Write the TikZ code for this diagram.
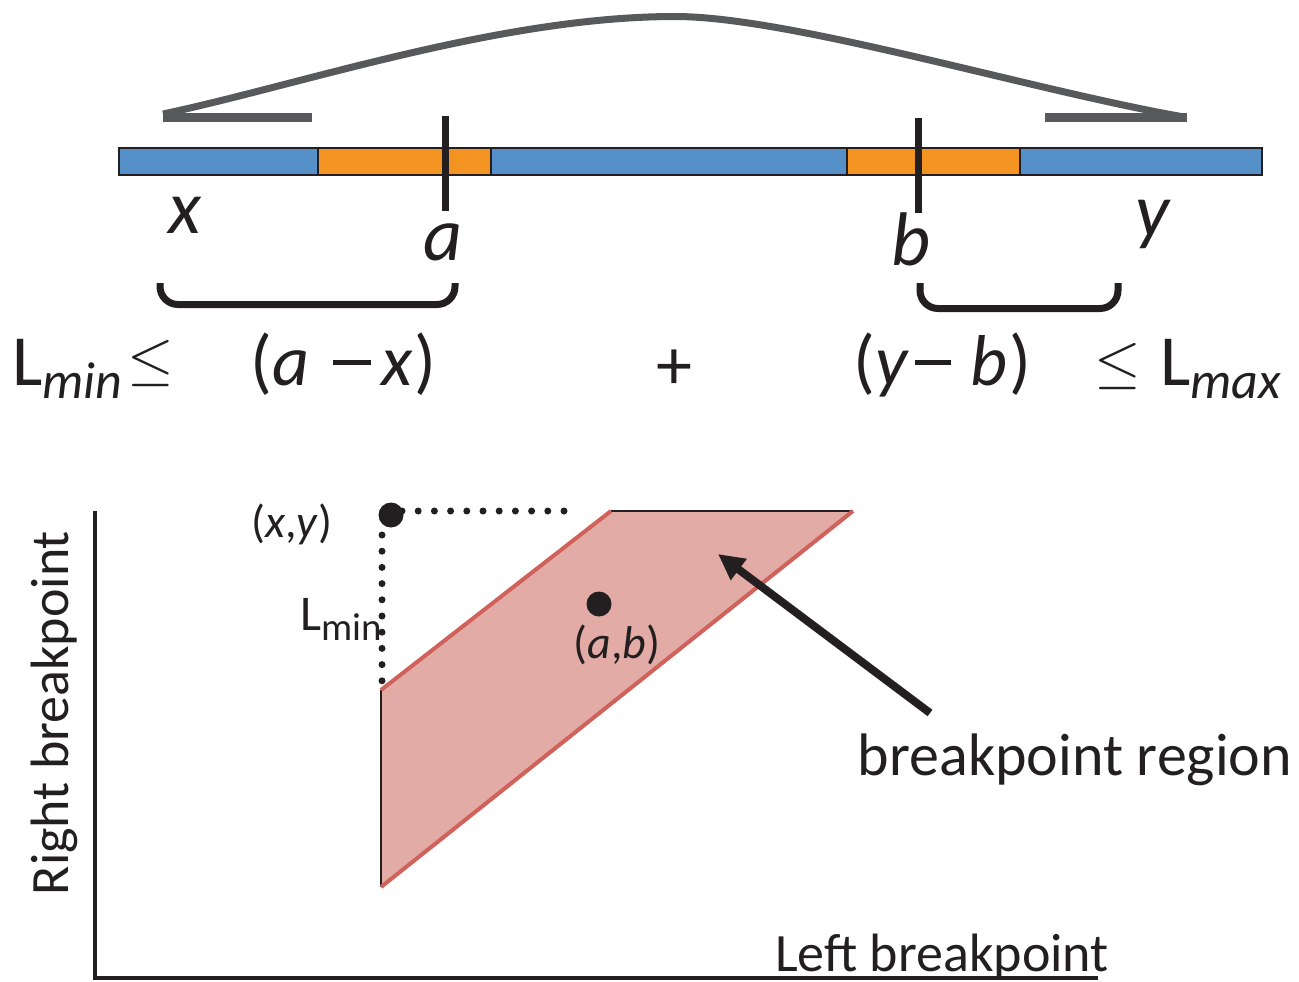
\RequirePackage{fix-cm}
\documentclass[tikz,border=0pt]{standalone}
\usepackage{fontspec}
\setmainfont{Carlito}
\usetikzlibrary{arrows.meta}
\definecolor{barblue}{HTML}{5591C8}
\definecolor{barorange}{HTML}{F39322}
\definecolor{curvegray}{HTML}{58595B}
\definecolor{inkblack}{HTML}{231F20}
\definecolor{regionfill}{HTML}{E2ABA5}
\definecolor{regionedge}{HTML}{D0625B}
\newcommand\eqfont{\fontsize{72}{80}\selectfont}
\newcommand\subfont{\fontsize{52}{56}\selectfont}
\newcommand\lblfont{\fontsize{76}{80}\selectfont}
\newcommand\ptfont{\fontsize{46}{50}\selectfont}
\newcommand\axfont{\fontsize{54}{58}\selectfont}
\newcommand\mydash[1]{\rule[20pt]{#1}{5pt}}
\tikzset{
  seg/.style={draw=inkblack,line width=2},
  tick/.style={draw=inkblack,line width=7},
  arcline/.style={draw=curvegray,line width=7},
  arcbar/.style={draw=curvegray,line width=9},
  bracket/.style={draw=inkblack,line width=7,rounded corners=18},
  txt/.style={inner sep=0pt,text=inkblack},
  dotline/.style={draw=inkblack,line width=7,line cap=round,dash pattern=on 0pt off 16.2pt},
  axis/.style={draw=inkblack,line width=4},
  edgeblack/.style={draw=inkblack,line width=1.5},
  edgered/.style={draw=regionedge,line width=4},
  bigarrow/.style={draw=inkblack,line width=8,-{Triangle[length=26pt,width=25pt]}}
}
\begin{document}
\begin{tikzpicture}[x=1pt,y=-1pt]
\useasboundingbox (0,0) rectangle (1299,982);
% top bar
\draw[seg,fill=barblue] (119,148) rectangle (318,175);
\draw[seg,fill=barorange] (318,148) rectangle (491,175);
\draw[seg,fill=barblue] (491,148) rectangle (847,175);
\draw[seg,fill=barorange] (847,148) rectangle (1020,175);
\draw[seg,fill=barblue] (1020,148) rectangle (1262,175);
% breakpoint ticks
\coordinate (ta1) at (445,116); \coordinate (ta2) at (445,211);
\coordinate (tb1) at (918,118); \coordinate (tb2) at (918,213);
\draw[tick] (ta1) -- (ta2);
\draw[tick] (tb1) -- (tb2);
% gray arc
\coordinate (al) at (163,114); \coordinate (apk) at (675,16.5); \coordinate (ar) at (1184,117);
\draw[arcline] (al) .. controls (300,85) and (500,16.5) .. (apk) .. controls (790,16.5) and (1030,90) .. (ar);
\coordinate (hl1) at (163,117.5); \coordinate (hl2) at (312,117.5);
\coordinate (hr1) at (1045,117.5); \coordinate (hr2) at (1187,117.5);
\draw[arcbar] (hl1) -- (hl2);
\draw[arcbar] (hr1) -- (hr2);
% letters
\node[txt,anchor=base] (lx) at (185,233) {\lblfont\itshape x};
\node[txt,anchor=base] (la) at (443,260) {\lblfont\itshape a};
\node[txt,anchor=base] (lb) at (911,265) {\lblfont\itshape b};
\node[txt,anchor=base] (ly) at (1152,236) {\lblfont\itshape y};
% brackets
\draw[bracket] (160,283) -- (160,304.5) -- (455,304.5) -- (455,283);
\draw[bracket] (920,283) -- (920,308.5) -- (1118,308.5) -- (1118,283);
% equation
\node[txt,anchor=base west] (lmin) at (12,385) {\eqfont L\raisebox{-13pt}{\subfont\itshape min}};
\node[txt] (le1) at (151,363.5) {\fontsize{60}{60}\selectfont$\leq$};
\node[txt,anchor=base west] (ax) at (250,385) {\eqfont (\textit{a}\hspace{24pt}\mydash{38pt}\hspace{10pt}\textit{x}\hspace{2pt})};
\node[txt] (plus) at (674,370) {\eqfont +};
\node[txt,anchor=base west] (yb) at (853,385) {\eqfont (\textit{y}\hspace{6pt}\mydash{36pt}\hspace{20pt}\textit{b}\hspace{2pt})};
\node[txt] (le2) at (1118,366) {\fontsize{60}{60}\selectfont$\leq$};
\node[txt,anchor=base west] (lmax) at (1160,385) {\eqfont L\raisebox{-13pt}{\subfont\itshape max}};
% axes
\coordinate (axtop) at (95,511); \coordinate (axorig) at (95,978); \coordinate (axright) at (1098,978);
\draw[axis] (axtop) -- (axorig) -- (axright);
\node[txt,anchor=base,rotate=90] (ylab) at (68,713) {\axfont Right breakpoint};
\node[txt,anchor=base] (xlab) at (942,971) {\axfont Left breakpoint};
% region
\coordinate (p1) at (381,690); \coordinate (p2) at (611,511);
\coordinate (p3) at (853,511); \coordinate (p4) at (381,887);
\fill[regionfill] (p1) -- (p2) -- (p3) -- (p4) -- cycle;
\draw[edgeblack] (p2) -- (p3);
\draw[edgeblack] (p1) -- (p4);
\draw[edgered] (p1) -- (p2);
\draw[edgered] (p3) -- (p4);
% dotted guides
\coordinate (dh1) at (402,511); \coordinate (dh2) at (580,511);
\coordinate (dv1) at (382,535); \coordinate (dv2) at (382,682);
\draw[dotline] (dh1) -- (dh2);
\draw[dotline] (dv1) -- (dv2);
% points
\fill[inkblack] (391,515) circle[radius=12.5pt];
\fill[inkblack] (599,604) circle[radius=12.5pt];
\node[txt,anchor=base] (xy) at (292,537) {\ptfont(\textit{x},\textit{y})};
\node[txt,anchor=base west] (lminb) at (300,630) {\fontsize{50}{54}\selectfont L\raisebox{-10pt}{\fontsize{39}{42}\selectfont min}};
\node[txt,anchor=base] (ab) at (617,658) {\ptfont(\textit{a},\textit{b})};
% arrow and label
\coordinate (arS) at (930,713); \coordinate (arE) at (718,554);
\draw[bigarrow] (arS) -- (arE);
\node[txt,anchor=base] (reg) at (1075,775) {\fontsize{60}{64}\selectfont breakpoint region};
\end{tikzpicture}
\end{document}
